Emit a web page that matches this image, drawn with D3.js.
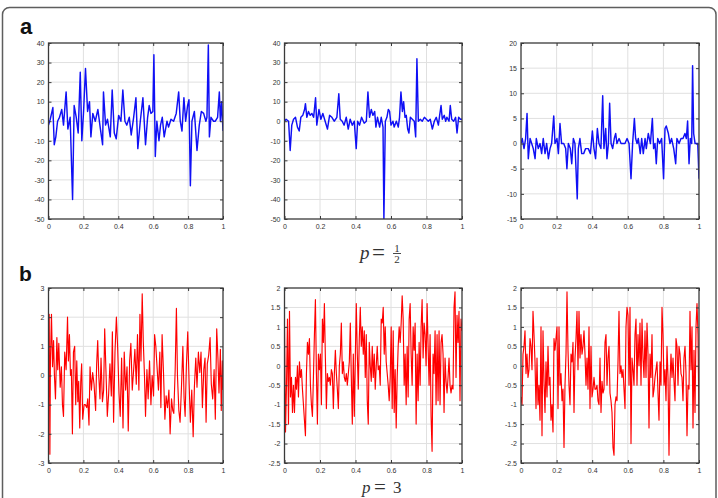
<!DOCTYPE html>
<html><head><meta charset="utf-8">
<script src="https://cdn.jsdelivr.net/npm/d3@7"></script>
<style>html,body{margin:0;padding:0;background:#fff;} svg{display:block;}</style>
</head><body><svg id="fig" width="718" height="498"></svg>
<script>
// ---------- tick labels ----------
const xTicks = [0, 0.2, 0.4, 0.6, 0.8, 1];
const yTicksA12 = [-50, -40, -30, -20, -10, 0, 10, 20, 30, 40];
const yTicksA3 = [-15, -10, -5, 0, 5, 10, 15, 20];
const yTicksB1 = [-3, -2, -1, 0, 1, 2, 3];
const yTicksB23 = [-2.5, -2, -1.5, -1, -0.5, 0, 0.5, 1, 1.5, 2];

// ---------- series ----------
const seriesA1 = [[0,-2],[.010,1],[.025,7],[.033,-12],[.042,-8],[.052,0],[.063,2],[.076,6],[.086,-2],[.101,15],[.111,-4],[.124,2],[.138,-40],[.147,8],[.159,2],[.170,-6],[.182,25],[.191,-10],[.201,5],[.212,27],[.224,5],[.235,10],[.243,-8],[.254,4],[.268,0],[.283,6],[.296,-3],[.310,-12],[.315,15],[.327,-2],[.338,1],[.354,-8],[.365,16],[.377,-6],[.388,-9],[.402,3],[.415,0],[.426,16],[.438,0],[.449,-2],[.463,2],[.474,-7],[.488,2],[.501,12],[.512,-14],[.526,0],[.541,12],[.556,-12],[.568,2],[.577,8],[.587,4],[.598,5],[.604,34],[.612,-18],[.621,0],[.633,-10],[.642,-2],[.652,2],[.663,-8],[.679,0],[.688,-3],[.702,1],[.717,0],[.732,4],[.746,15],[.755,0],[.765,-5],[.776,12],[.786,0],[.797,8],[.805,11],[.813,-33],[.822,0],[.836,5],[.851,-15],[.864,-2],[.876,5],[.889,4],[.902,0],[.908,2],[.916,39],[.922,-8],[.931,2],[.946,0],[.956,0],[.969,2],[.979,15],[.985,0],[.992,10],[1,-5]];

const seriesA2 = [[0,0],[.009,1],[.023,0],[.032,-15],[.041,-2],[.051,1],[.062,2],[.073,-3],[.083,-5],[.092,2],[.103,3],[.113,6],[.118,9],[.126,2],[.135,5],[.145,3],[.154,4],[.164,2],[.175,12],[.182,-2],[.194,6],[.205,1],[.216,4],[.229,0],[.242,-4],[.254,3],[.267,2],[.280,0],[.295,2],[.306,14],[.314,1],[.325,0],[.336,-2],[.348,2],[.359,-4],[.370,1],[.382,-2],[.393,0],[.404,-14],[.412,0],[.423,-2],[.434,2],[.449,-1],[.461,0],[.470,15],[.479,2],[.489,6],[.498,3],[.508,5],[.515,-3],[.524,2],[.536,-3],[.545,2],[.555,-3],[.560,-50],[.568,0],[.577,2],[.585,6],[.592,5],[.600,-2],[.611,0],[.618,-3],[.630,0],[.641,-3],[.648,2],[.656,15],[.664,5],[.671,10],[.679,2],[.686,3],[.694,-4],[.701,-6],[.709,2],[.720,1],[.731,0],[.739,-8],[.746,32],[.754,0],[.765,1],[.776,0],[.788,2],[.799,1],[.810,0],[.821,1],[.833,-4],[.844,0],[.855,2],[.867,-2],[.874,3],[.882,8],[.889,1],[.900,3],[.908,0],[.915,2],[.927,0],[.934,8],[.942,1],[.953,0],[.964,2],[.972,-6],[.981,2],[.991,1],[1,1]];

const seriesA3 = [[0,0],[.007,1],[.017,-1],[.026,1],[.034,6],[.041,-3],[.051,1],[.060,0],[.069,-1],[.079,-3],[.086,1],[.097,-1],[.107,0],[.116,-2],[.125,1],[.135,-2],[.144,0],[.154,-3],[.163,-1],[.172,0],[.184,5.5],[.191,0],[.202,1],[.210,-2],[.219,4],[.228,0],[.240,0],[.251,-1],[.258,-5],[.266,0],[.277,-1],[.285,-4],[.294,1],[.303,0],[.316,-11],[.322,-1],[.331,1],[.341,-2],[.352,-2],[.363,-1],[.378,-1],[.390,-2],[.401,2.5],[.410,-1],[.419,-3],[.429,3],[.438,0],[.449,-1],[.459,9.5],[.466,-1],[.476,3],[.483,-3],[.491,0],[.498,8],[.506,0],[.515,-1],[.524,1],[.532,2],[.539,0],[.551,1],[.562,0],[.573,0],[.584,0],[.596,1],[.607,0],[.618,-7],[.627,0],[.637,5],[.644,1],[.652,0],[.659,1],[.670,-2],[.678,1],[.687,-2],[.697,1],[.704,-1],[.715,2],[.727,0],[.738,5],[.745,-1],[.753,0],[.760,-4],[.768,1],[.779,0],[.790,1],[.801,-7],[.809,3],[.816,3.5],[.828,2],[.837,0],[.846,1],[.858,-1],[.869,-4],[.876,1],[.888,0],[.899,1],[.910,1],[.921,2],[.929,1],[.936,4.5],[.944,-4],[.951,1],[.959,0],[.964,15.5],[.970,2],[.978,0],[.987,0],[.993,0],[1,-7]];

const seriesB1 = [[0,1.5],[.004,2.1],[.008,-2.7],[.011,0.5],[.017,2.1],[.023,0.3],[.029,1.2],[.034,0],[.040,-0.8],[.048,1.3],[.053,0.2],[.059,1.1],[.067,-0.4],[.074,0.3],[.080,-1],[.086,-1.4],[.093,0.8],[.101,0.2],[.109,2.0],[.114,0.5],[.120,1.4],[.126,0],[.131,0.2],[.137,-2.0],[.143,0.8],[.150,1.0],[.156,-1],[.162,0.5],[.168,-0.9],[.173,-0.2],[.179,-1.8],[.185,-0.2],[.190,0.4],[.196,-1.5],[.204,-1.0],[.211,-1.0],[.219,-1.1],[.225,-0.8],[.232,-1.7],[.238,0.3],[.246,-0.5],[.253,0.1],[.261,-0.3],[.270,-1.2],[.276,0.4],[.282,1.2],[.288,0],[.295,-0.8],[.301,0.6],[.309,-0.9],[.316,-0.5],[.322,1.6],[.330,0],[.337,-1.4],[.345,-0.6],[.352,0.4],[.360,-0.7],[.366,1.5],[.373,-1.6],[.381,0.8],[.389,2.0],[.396,1.0],[.404,-0.6],[.411,-1.4],[.419,0.6],[.427,-1.8],[.434,0.8],[.442,-0.5],[.450,0.3],[.457,-1.9],[.465,0.5],[.472,1.1],[.480,-0.5],[.488,0.2],[.495,0.9],[.503,-0.3],[.510,1.4],[.518,-0.5],[.524,2.1],[.530,0.5],[.537,2.8],[.543,1.2],[.550,0],[.556,-1.4],[.564,0.2],[.571,-0.8],[.579,0.5],[.587,-1.0],[.594,0],[.602,-0.7],[.608,1.4],[.615,1.0],[.623,0.2],[.630,-0.5],[.638,0.8],[.644,-1.1],[.651,1.4],[.659,0.1],[.667,-1.5],[.674,-0.7],[.682,-1.1],[.690,-0.5],[.697,-2.0],[.705,-0.8],[.712,-1.2],[.718,-1.3],[.726,0.2],[.733,2.3],[.739,0],[.747,-1.2],[.754,-1.6],[.762,-0.4],[.770,1.0],[.777,-0.8],[.783,-1.4],[.790,0.3],[.798,1.5],[.806,-0.3],[.813,-1.6],[.821,-0.5],[.829,-2.1],[.836,-0.4],[.844,0.6],[.851,-0.4],[.859,0.8],[.867,0.1],[.874,0.8],[.882,-1.1],[.890,0.2],[.897,0.6],[.903,-1.6],[.910,0.4],[.918,0.7],[.926,1.3],[.933,-0.3],[.941,-0.8],[.949,0.2],[.956,-1.5],[.964,1.6],[.971,0.6],[.977,-0.6],[.985,0.9],[.990,-1.2],[.996,0.5],[1,-0.5]];

// evenly sampled signals: values only
const valuesB2 = [1.0,-1.7,-0.5,1.2,-1.5,1.4,-0.8,-0.3,-1.2,-0.5,-1.2,-0.3,-0.6,0,-0.8,0.1,-0.3,-0.1,-0.6,-1.0,-1.4,-1.8,-0.2,0.6,0.3,0.7,-0.5,-1.0,-1.3,-0.3,0.8,1.7,-0.2,-1.5,0.3,-0.1,0.3,-1.0,1.2,0.6,1.6,0.2,-1.1,-0.2,-0.4,-0.3,-0.5,-0.1,-0.2,-1.1,-0.2,0.4,-0.2,-0.6,-1.1,0,0.3,1.1,-0.2,0.1,-0.3,-0.4,-0.2,-0.5,-0.2,0.1,1.1,-0.3,-1.5,0.3,-1.3,0.2,1.6,0.3,-0.6,0.7,1.5,0.5,1.0,0.3,0.9,-0.3,0.8,-0.9,-1.5,0.6,0,-0.4,0.5,-0.3,0.3,-0.6,0,0.5,-0.1,0,-0.5,1.2,1.1,1.5,0.3,1.0,0.1,-0.2,-0.5,-0.9,-0.3,1.0,-1.1,0.9,-1.2,-0.1,-1.6,-0.3,0.5,1.0,0.6,1.1,1.8,1.2,-0.5,0.3,-1.0,0.5,-0.8,1.2,1.6,0.3,-0.5,1.0,0.4,1.1,-1.5,0.3,-0.9,0.6,-0.5,1.0,1.7,0.2,1.1,0.8,0,1.6,0.5,-0.5,0.8,-1.3,-2.2,0.3,-0.2,0.9,-1.0,0.8,-0.9,0.9,-1.0,0.6,0.8,0.3,-1.2,0.2,-0.4,-0.7,-0.3,0.2,-0.5,-0.7,-0.5,-0.6,1.5,1.9,-0.3,1.3,0.6,1.4,-0.9,1.2,0.9];

const valuesB3 = [-0.8,-1.0,0.3,0.5,0.9,-0.2,0.3,-0.3,-0.1,0.7,0.5,-0.1,1.4,0.8,0.1,-1.1,0.2,-1.0,-0.5,-1.4,1.0,-1.8,0.9,-0.4,-1.2,0.1,-0.8,0.5,-0.5,-0.3,-1.4,-1.0,-1.7,0.7,0.4,0.7,1.0,-1.1,1.0,-0.5,-0.2,-0.9,-0.6,-2.1,-0.5,0.3,1.9,0.4,-0.5,-1.0,0.3,0.1,0.6,-1.2,0.2,0.7,1.4,-0.1,1.4,0.2,0.8,0.3,0.5,0.9,0.3,-0.5,0.2,-0.6,1.0,-1.1,0.5,-0.8,-0.6,-0.3,-0.6,-0.6,-0.5,-0.9,-1.0,0.2,-1.2,-0.4,-0.7,-0.6,0.6,0.8,-0.5,0.2,0.5,-0.7,-0.9,-1.2,-2.1,-2.3,-1.0,-0.8,-0.9,0.1,1.4,-0.2,0,-0.3,-0.1,-0.6,-1.1,1.0,1.5,1.3,-0.5,1.5,-2.0,0.2,-0.1,-0.5,0.8,1.2,-0.5,0.8,0,1.1,-0.5,1.2,0.2,-0.3,0.9,-0.3,1.1,0.3,-1.6,0.3,-0.3,0.8,-0.8,-0.6,-0.3,-0.1,0.1,-0.7,-1.4,0.1,-0.5,1.5,0.8,-0.5,-0.1,-0.9,0.5,-0.3,-2.3,-0.4,0.3,-0.3,0.2,-0.4,-0.9,0.7,0.5,-0.5,0.5,0.3,-0.2,-0.3,-0.9,0.2,0.5,-0.2,-1.8,-0.5,-0.6,1.4,-0.1,1.0,-1.6,0.4,-1.2,1.0,1.6,0.8,-1.4];

// sample times on [0,1] for the evenly sampled signals
const evenly = vals => vals.map((v, i) => [i / (vals.length - 1), v]);

// ---------- layout ----------
const W = 718, H = 498;
const svg = d3.select('#fig');
svg.append('rect').attr('width', W).attr('height', H).attr('fill', '#fff');

// outer rounded frame (bottom runs off the picture)
svg.append('rect')
  .attr('x', 2.5).attr('y', 7.5).attr('width', 713.5).attr('height', 540)
  .attr('rx', 7).attr('ry', 7)
  .attr('fill', 'none').attr('stroke', '#5e5e5e').attr('stroke-width', 1.5);

const cols = [[48.5, 223], [284.5, 462], [521, 699]];
const rows = [[43, 219], [288, 463]];

const panels = [
  { data: seriesA1, yDom: [-50, 40], yTicks: yTicksA12, row: 0, col: 0, color: '#1010f5', sw: 1.45 },
  { data: seriesA2, yDom: [-50, 40], yTicks: yTicksA12, row: 0, col: 1, color: '#1010f5', sw: 1.45 },
  { data: seriesA3, yDom: [-15, 20], yTicks: yTicksA3, row: 0, col: 2, color: '#1010f5', sw: 1.45 },
  { data: seriesB1, yDom: [-3, 3], yTicks: yTicksB1, row: 1, col: 0, color: '#ff0000', sw: 1.15 },
  { data: evenly(valuesB2), yDom: [-2.5, 2], yTicks: yTicksB23, row: 1, col: 1, color: '#ff0000', sw: 1.15 },
  { data: evenly(valuesB3), yDom: [-2.5, 2], yTicks: yTicksB23, row: 1, col: 2, color: '#ff0000', sw: 1.15 }
];

const fmt = d => String(d);
const frameColor = '#3a3a3a';
const gridColor = '#e0e0e0';
const fontFam = '"Liberation Sans", Arial, sans-serif';

panels.forEach((p, i) => {
  const [x0, x1] = cols[p.col];
  const [y0, y1] = rows[p.row];
  const x = d3.scaleLinear().domain([0, 1]).range([x0, x1]);
  const y = d3.scaleLinear().domain(p.yDom).range([y1, y0]);
  const g = svg.append('g');

  g.append('rect').attr('x', x0).attr('y', y0).attr('width', x1 - x0).attr('height', y1 - y0).attr('fill', '#fff');

  // grid
  g.append('g').selectAll('line').data(xTicks.slice(1, -1)).join('line')
    .attr('x1', d => x(d)).attr('x2', d => x(d)).attr('y1', y0).attr('y2', y1)
    .attr('stroke', gridColor).attr('stroke-width', 1);
  g.append('g').selectAll('line').data(p.yTicks.slice(1, -1)).join('line')
    .attr('x1', x0).attr('x2', x1).attr('y1', d => y(d)).attr('y2', d => y(d))
    .attr('stroke', gridColor).attr('stroke-width', 1);

  // signal
  const clipId = 'clip' + i;
  g.append('clipPath').attr('id', clipId).append('rect')
    .attr('x', x0).attr('y', y0).attr('width', x1 - x0).attr('height', y1 - y0);
  g.append('path').datum(p.data)
    .attr('clip-path', `url(#${clipId})`)
    .attr('fill', 'none').attr('stroke', p.color).attr('stroke-width', p.sw)
    .attr('stroke-linejoin', 'round')
    .attr('d', d3.line().x(d => x(d[0])).y(d => y(d[1])));

  // axes
  const styleAxis = sel => {
    sel.select('.domain').remove();
    sel.selectAll('line').attr('stroke', frameColor);
    sel.selectAll('text').attr('fill', '#333').style('font-family', fontFam).style('font-size', '7px');
  };
  g.append('g').attr('transform', `translate(0,${y1})`)
    .call(d3.axisBottom(x).tickValues(xTicks).tickFormat(fmt).tickSize(-3).tickSizeOuter(0).tickPadding(5))
    .call(styleAxis);
  g.append('g').attr('transform', `translate(${x0},0)`)
    .call(d3.axisLeft(y).tickValues(p.yTicks).tickFormat(fmt).tickSize(-3).tickSizeOuter(0).tickPadding(4))
    .call(styleAxis);
  g.append('g').attr('transform', `translate(0,${y0})`)
    .call(d3.axisTop(x).tickValues(xTicks).tickFormat('').tickSize(-3).tickSizeOuter(0))
    .call(styleAxis);
  g.append('g').attr('transform', `translate(${x1},0)`)
    .call(d3.axisRight(y).tickValues(p.yTicks).tickFormat('').tickSize(-3).tickSizeOuter(0))
    .call(styleAxis);

  // box
  g.append('rect').attr('x', x0).attr('y', y0).attr('width', x1 - x0).attr('height', y1 - y0)
    .attr('fill', 'none').attr('stroke', frameColor).attr('stroke-width', 1.3);
});

// panel letters
svg.append('text').attr('x', 20).attr('y', 34).text('a')
  .style('font-family', fontFam).style('font-weight', 'bold').style('font-size', '22px').attr('fill', '#111');
svg.append('text').attr('x', 19).attr('y', 281).text('b')
  .style('font-family', fontFam).style('font-weight', 'bold').style('font-size', '21px').attr('fill', '#111');

// math captions
const serif = '"Liberation Serif", "DejaVu Serif", serif';
function caption(cx, base, size, denomText, numText) {
  const gg = svg.append('g').attr('fill', '#333').style('font-family', serif);
  gg.append('text').attr('x', cx).attr('y', base).text('p').style('font-style', 'italic').style('font-size', size + 'px');
  gg.append('text').attr('x', cx + 12).attr('y', base + 1).text('=').style('font-size', (size + 4) + 'px');
  if (numText) {
    gg.append('text').attr('x', cx + 37).attr('y', base - 7).attr('text-anchor', 'middle').text(numText).style('font-size', '11px');
    gg.append('line').attr('x1', cx + 33).attr('x2', cx + 41).attr('y1', base - 5.5).attr('y2', base - 5.5).attr('stroke', '#333').attr('stroke-width', 0.9);
    gg.append('text').attr('x', cx + 37).attr('y', base + 3.5).attr('text-anchor', 'middle').text(denomText).style('font-size', '11px');
  } else {
    gg.append('text').attr('x', cx + 31).attr('y', base).text(denomText).style('font-size', size + 'px');
  }
}
caption(360, 259, 19, '2', '1');
caption(362, 493, 17, '3', null);
</script></body></html>
